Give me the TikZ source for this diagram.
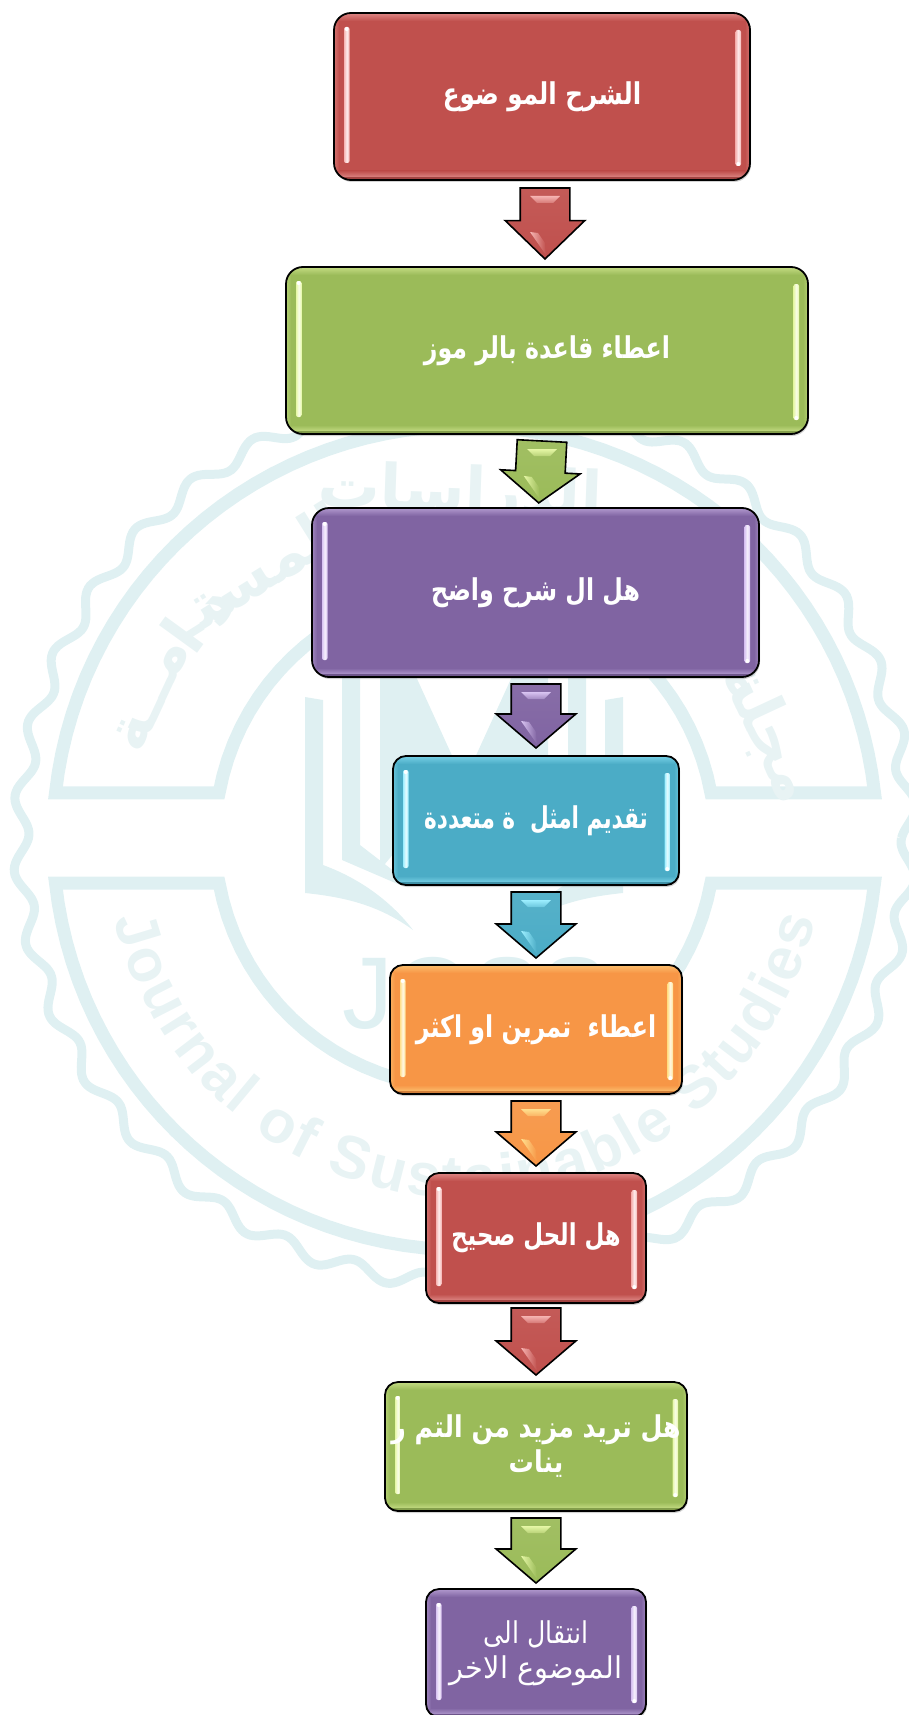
\documentclass[tikz,border=0pt]{standalone}
\usepackage{graphicx}
\usepackage{fontspec}
\usetikzlibrary{calc,shapes.arrows,shadows,decorations.text}
\TeXXeTstate=1
\newfontfamily\arabicfont[Script=Arabic]{DejaVu Sans}
\newfontfamily\latinfont{Liberation Sans}

\definecolor{boxred}{HTML}{C0504D}
\definecolor{boxredlight}{HTML}{F6B4B2}
\definecolor{boxgreen}{HTML}{9BBB59}
\definecolor{boxgreenlight}{HTML}{E6F7A6}
\definecolor{boxpurple}{HTML}{8064A2}
\definecolor{boxpurplelight}{HTML}{D9C4F2}
\definecolor{boxteal}{HTML}{4BACC6}
\definecolor{boxteallight}{HTML}{9CEEFF}
\definecolor{boxorange}{HTML}{F79646}
\definecolor{boxorangelight}{HTML}{FFE08F}
\definecolor{wmband}{HTML}{DFF0F2}
\definecolor{wmtext}{HTML}{E8F3F4}

\tikzset{
    glossybox/.style={
        rectangle, draw=black, line width=1.8pt, fill=#1, inner sep=0pt, outer sep=0pt,
        text=white, align=center, font=\arabicfont\bfseries\fontsize{30}{35}\selectfont,
        drop shadow={shadow xshift=1pt, shadow yshift=-2pt, opacity=0.35},
        path picture={
            \path (path picture bounding box.north west) coordinate (nw)
                  (path picture bounding box.south east) coordinate (se);
            \shade[sharp corners, top color=#1light!55!#1, bottom color=#1] (nw) rectangle ($(nw -| se)+(0,8)$);
            \shade[sharp corners, top color=#1, bottom color=#1light!50!#1] ($(nw |- se)+(0,-9)$) rectangle ($(se)+(0,-3)$);
            \fill[sharp corners, #1!85!black] ($(nw |- se)+(0,-3)$) rectangle (se);
            \shade[sharp corners, left color=#1light!35!#1, right color=#1] ($(nw)+(0,8)$) rectangle ($(nw |- se)+(5,-9)$);
            \shade[sharp corners, left color=#1, right color=#1light!35!#1] ($(nw -| se)+(-5,8)$) rectangle ($(se)+(0,-9)$);
            \shade[rounded corners=2pt, left color=#1light, right color=#1light, middle color=#1light!25!white]
                ($(nw)+(10,14)$) rectangle ($(nw |- se)+(15.5,-17)$);
            \shade[rounded corners=2pt, left color=#1light, right color=#1light, middle color=#1light!25!white]
                ($(nw -| se)+(-14.5,17)$) rectangle ($(se)+(-9,-14)$);
            \fill[white] ($(nw)+(12.7,16)$) circle (2pt);
            \fill[white] ($(se)+(-11.7,-16)$) circle (2pt);
        }
    },
    blockarrow/.style={
        shape=single arrow, draw=black, line width=1.6pt, inner sep=0pt, outer sep=0pt,
        text height=48pt, text depth=0pt,
        top color=#1!94!white, bottom color=#1,
        single arrow head extend=15pt, single arrow head indent=0pt,
        single arrow tip angle=99, minimum width=78pt, anchor=tail, rotate=-90
    },
    wmline/.style={draw=wmband, line join=miter}
}

% gloss on one block arrow
\newcommand{\arrowgloss}[2]{
    \shade[top color=#2light, bottom color=#2light!40!#2]
        ($(#1.tail)+(-15,8)$) -- ($(#1.tail)+(15,8)$) -- ($(#1.tail)+(8,15)$) -- ($(#1.tail)+(-8,15)$) -- cycle;
    \shade[left color=#2light, right color=#2]
        ($(#1.tip)+(-15,-27)$) -- ($(#1.tip)+(-7,-26)$) -- ($(#1.tip)+(0,-16)$) -- ($(#1.tip)+(1,-4)$) -- cycle;
}

\begin{document}
\begin{tikzpicture}[x=1pt, y=-1pt]
    \path[use as bounding box, clip] (0,0) rectangle (909,1715);

    % watermark behind the chart
    \draw[wmline, line width=9pt, smooth] plot[domain=0:360, samples=457]
        ({465+(444+8*sin(38*\x-110))*cos(\x)}, {838+(444+8*sin(38*\x-110))*sin(\x)});
    \draw[wmline, line width=13pt] plot[domain=186.3:353.7, samples=61] ({465+412*cos(\x)}, {838+412*sin(\x)})
        -- plot[domain=349.6:190.4, samples=41] ({465+250*cos(\x)}, {838+250*sin(\x)}) -- cycle;
    \draw[wmline, line width=13pt] plot[domain=173.7:6.3, samples=61] ({465+412*cos(\x)}, {838+412*sin(\x)})
        -- plot[domain=10.4:169.6, samples=41] ({465+250*cos(\x)}, {838+250*sin(\x)}) -- cycle;

    \foreach \s in {1,-1} {
        \begin{scope}[shift={(464,0)}, xscale=\s]
            \fill[wmband] (-159,697) -- (-141,700) -- (-141,865) .. controls (-100,880) and (-70,905) .. (-51,930)
                .. controls (-85,905) and (-120,897) .. (-159,893) -- cycle;
            \fill[wmband] (-122,670) -- (-104,670) -- (-104,845) -- (-69,872) -- (-64,885) -- (-122,860) -- cycle;
            \fill[wmband] (-84,670) -- (-51,670) -- (-4,773) -- (-84,870) -- cycle;
        \end{scope}
    }
    \node[anchor=base west, inner sep=0pt, text=wmband, font=\latinfont\fontsize{102}{102}\selectfont] (wmname) at (342,1028) {JOSS};

    \path[decorate, decoration={text along path, text align={fit to path},
        text={|\latinfont\bfseries\fontsize{60}{60}\selectfont\color{wmtext}|Journal of Sustainable Studies}}]
        plot[domain=167:13, samples=61] ({465+360*cos(\x)}, {838+360*sin(\x)});

    \begin{scope}[text=wmtext, inner sep=0pt, font=\arabicfont\bfseries\fontsize{62}{62}\selectfont]
        \node[rotate=-65] (wmone)   at (768,733) {\beginR مجلة\endR};
        \node[rotate=-2]  (wmtwo)   at (460,495) {\beginR الدراسات\endR};
        \node[rotate=32]  (wmthree) at (257,570) {\beginR المستـ\endR};
        \node[rotate=47]  (wmfour)  at (220,610) {\beginR د\endR};
        \node[rotate=54]  (wmfive)  at (182,635) {\beginR ا\endR};
        \node[rotate=65]  (wmsix)   at (152,695) {\beginR مــة\endR};
    \end{scope}

    % boxes
    \node[glossybox=boxred, rounded corners=17pt, minimum width=416pt, minimum height=167pt] (box1) at (542,96.5)
        {\scalebox{0.82}[1]{\beginR الشرح المو ضوع\endR}};
    \node[glossybox=boxgreen, rounded corners=17pt, minimum width=522pt, minimum height=167pt] (box2) at (547,350.5)
        {\scalebox{0.79}[1]{\beginR اعطاء قاعدة بالر موز\endR}};
    \node[glossybox=boxpurple, rounded corners=17pt, minimum width=447pt, minimum height=169pt] (box3) at (535.5,592.5)
        {\scalebox{0.79}[1]{\beginR هل ال شرح واضح\endR}};
    \node[glossybox=boxteal, rounded corners=13pt, minimum width=286pt, minimum height=129pt] (box4) at (536,820.5)
        {\scalebox{0.72}[1]{\beginR تقديم امثل \ ة متعددة\endR}};
    \node[glossybox=boxorange, rounded corners=13pt, minimum width=292pt, minimum height=129pt] (box5) at (536,1029.5)
        {\scalebox{0.79}[1]{\beginR اعطاء \ تمرين او اكثر\endR}};
    \node[glossybox=boxred, rounded corners=13pt, minimum width=220pt, minimum height=130pt] (box6) at (536,1238)
        {\scalebox{0.76}[1]{\beginR هل الحل صحيح\endR}};
    \node[glossybox=boxgreen, rounded corners=13pt, minimum width=302pt, minimum height=129pt] (box7) at (536,1446.5)
        {\scalebox{0.84}[1]{\beginR هل تريد مزيد من التم ر\endR}\\\scalebox{0.84}[1]{\beginR ينات\endR}};
    \node[glossybox=boxpurple, rounded corners=13pt, minimum width=220pt, minimum height=128pt,
        font=\arabicfont\fontsize{30}{35}\selectfont] (box8) at (536,1653)
        {\scalebox{0.84}[1]{\beginR انتقال الى\endR}\\\scalebox{0.96}[1]{\beginR الموضوع الاخر\endR}};

    % arrows between the boxes
    \node[blockarrow=boxred, minimum height=71pt, single arrow tip angle=92] (arrow1) at ($(box1.south)+(3,8)$) {};
    \arrowgloss{arrow1}{boxred}
    \node[blockarrow=boxgreen, minimum height=62pt, single arrow tip angle=104, rotate=-3] (arrow2) at ($(box2.south)+(-5,7)$) {};
    \arrowgloss{arrow2}{boxgreen}
    \node[blockarrow=boxpurple, minimum height=64pt] (arrow3) at ($(box3.south)+(0.5,7)$) {};
    \arrowgloss{arrow3}{boxpurple}
    \node[blockarrow=boxteal, minimum height=66pt] (arrow4) at ($(box4.south)+(0,7)$) {};
    \arrowgloss{arrow4}{boxteal}
    \node[blockarrow=boxorange, minimum height=65pt] (arrow5) at ($(box5.south)+(0,7)$) {};
    \arrowgloss{arrow5}{boxorange}
    \node[blockarrow=boxred, minimum height=67pt] (arrow6) at ($(box6.south)+(0,5)$) {};
    \arrowgloss{arrow6}{boxred}
    \node[blockarrow=boxgreen, minimum height=65pt] (arrow7) at ($(box7.south)+(0,7)$) {};
    \arrowgloss{arrow7}{boxgreen}
\end{tikzpicture}
\end{document}
